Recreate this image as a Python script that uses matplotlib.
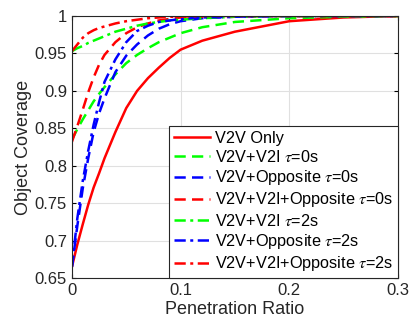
import numpy as np
import matplotlib
matplotlib.use("Agg")
import matplotlib.pyplot as plt

plt.rcParams['font.family'] = ['Liberation Sans', 'DejaVu Sans']
plt.rcParams['mathtext.fontset'] = 'stix'

# penetration ratio (x) shared by all curves
ratio = [0, 0.005, 0.01, 0.015, 0.02, 0.025, 0.03, 0.04, 0.05, 0.06,
         0.07, 0.08, 0.09, 0.1, 0.12, 0.15, 0.2, 0.25, 0.3]

v2v_only = [0.665, 0.695, 0.722, 0.748, 0.771, 0.790, 0.810, 0.845, 0.877, 0.900,
            0.917, 0.931, 0.944, 0.955, 0.967, 0.979, 0.993, 0.998, 1.0]
v2i_t0 = [0.835, 0.849, 0.862, 0.874, 0.886, 0.896, 0.905, 0.922, 0.937, 0.948,
          0.957, 0.965, 0.971, 0.977, 0.985, 0.992, 0.997, 0.999, 1.0]
opp_t0 = [0.665, 0.720, 0.770, 0.810, 0.845, 0.870, 0.890, 0.925, 0.947, 0.962,
          0.974, 0.983, 0.989, 0.993, 0.997, 0.999, 1.0, 1.0, 1.0]
all_t0 = [0.832, 0.853, 0.875, 0.898, 0.918, 0.935, 0.948, 0.965, 0.977, 0.985,
          0.990, 0.994, 0.996, 0.998, 0.999, 1.0, 1.0, 1.0, 1.0]
v2i_t2 = [0.953, 0.957, 0.960, 0.964, 0.967, 0.970, 0.973, 0.979, 0.983, 0.987,
          0.990, 0.992, 0.994, 0.995, 0.997, 0.999, 1.0, 1.0, 1.0]
opp_t2 = [0.665, 0.730, 0.780, 0.820, 0.855, 0.885, 0.912, 0.942, 0.965, 0.980,
          0.987, 0.992, 0.994, 0.996, 0.998, 0.999, 1.0, 1.0, 1.0]
all_t2 = [0.953, 0.962, 0.971, 0.977, 0.981, 0.984, 0.986, 0.990, 0.993, 0.995,
          0.997, 0.998, 0.999, 0.999, 1.0, 1.0, 1.0, 1.0, 1.0]

labels = ['V2V Only',
          r'V2V+V2I $\tau$=0s',
          r'V2V+Opposite $\tau$=0s',
          r'V2V+V2I+Opposite $\tau$=0s',
          r'V2V+V2I $\tau$=2s',
          r'V2V+Opposite $\tau$=2s',
          r'V2V+V2I+Opposite $\tau$=2s']

dash = (4.5, 2.5)          # matlab-ish '--'
dashdot = (4.5, 1.8, 1.2, 1.8)  # matlab-ish '-.'

fig = plt.figure(figsize=(4.11, 3.26), dpi=100)
ax = fig.add_axes([0.175, 0.147, 0.793, 0.804])

ax.plot(ratio, v2v_only, '-', color=(1, 0, 0), lw=1.8, label=labels[0])
ax.plot(ratio, v2i_t0, color=(0, 1, 0), lw=1.8, dashes=dash, label=labels[1])
ax.plot(ratio, opp_t0, color=(0, 0, 1), lw=1.8, dashes=dash, label=labels[2])
ax.plot(ratio, all_t0, color=(1, 0, 0), lw=1.8, dashes=dash, label=labels[3])
ax.plot(ratio, v2i_t2, color=(0, 1, 0), lw=1.8, dashes=dashdot, label=labels[4])
ax.plot(ratio, opp_t2, color=(0, 0, 1), lw=1.8, dashes=dashdot, label=labels[5])
ax.plot(ratio, all_t2, color=(1, 0, 0), lw=1.8, dashes=dashdot, label=labels[6])

ax.set_xlim(0, 0.3)
ax.set_ylim(0.65, 1.0)
ax.set_xticks([0, 0.1, 0.2, 0.3])
ax.set_xticklabels(['0', '0.1', '0.2', '0.3'])
ax.set_yticks([0.65, 0.7, 0.75, 0.8, 0.85, 0.9, 0.95, 1.0])
ax.set_yticklabels(['0.65', '0.7', '0.75', '0.8', '0.85', '0.9', '0.95', '1'])
ax.tick_params(direction='in', top=True, right=True, labelsize=12,
               labelcolor='#262626', length=3)
ax.grid(True, color='#e0e0e0', lw=0.8)
ax.set_axisbelow(True)
for s in ax.spines.values():
    s.set_color('#262626')
ax.set_xlabel('Penetration Ratio', fontsize=13, color='#262626', labelpad=2)
ax.set_ylabel('Object Coverage', fontsize=13, color='#262626', labelpad=2)

leg = ax.legend(loc='lower right', fontsize=11.7, fancybox=False, framealpha=1,
                edgecolor='#262626', borderaxespad=0, labelspacing=0.2,
                handlelength=2.2, handletextpad=0.3, borderpad=0.3)
leg.get_frame().set_linewidth(0.8)

fig.savefig('out.png', dpi=100)
